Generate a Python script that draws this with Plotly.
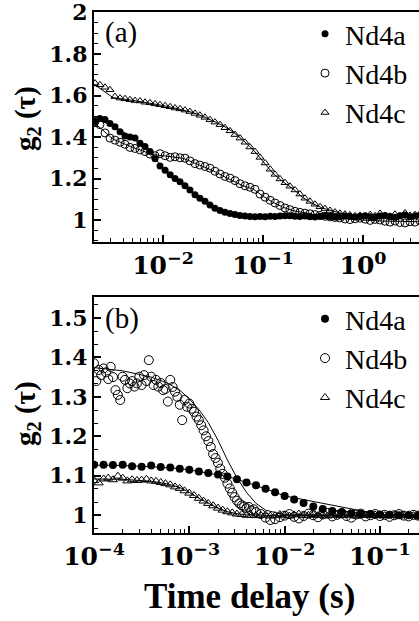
import plotly.graph_objects as go

# ---- panel (a): correlator lag times (s) and g2 values ----
delay_a = [0.00209, 0.00234, 0.00263, 0.00295, 0.00331, 0.00372, 0.00417, 0.00468, 0.00525, 0.00589,
           0.00661, 0.00741, 0.00832, 0.00933, 0.0105, 0.0118, 0.0132, 0.0148, 0.0166, 0.0186,
           0.0209, 0.0234, 0.0263, 0.0295, 0.0331, 0.0372, 0.0417, 0.0468, 0.0525, 0.0589,
           0.0661, 0.0741, 0.0832, 0.0933, 0.105, 0.118, 0.132, 0.148, 0.166, 0.186,
           0.209, 0.234, 0.263, 0.295, 0.331, 0.372, 0.417, 0.468, 0.525, 0.589,
           0.661, 0.741, 0.832, 0.933, 1.05, 1.18, 1.32, 1.48, 1.66, 1.86,
           2.09, 2.34, 2.63, 2.95, 3.31, 3.72]

nd4a_a = [1.475, 1.49, 1.485, 1.465, 1.45, 1.425, 1.405, 1.40, 1.395, 1.37,
          1.355, 1.33, 1.295, 1.26, 1.24, 1.218, 1.20, 1.185, 1.165, 1.145,
          1.122, 1.105, 1.09, 1.072, 1.057, 1.046, 1.038, 1.032, 1.027, 1.022,
          1.019, 1.017, 1.016, 1.017, 1.016, 1.018, 1.017, 1.019, 1.021, 1.02,
          1.018, 1.017, 1.019, 1.016, 1.015, 1.018, 1.02, 1.017, 1.014, 1.016,
          1.019, 1.017, 1.015, 1.018, 1.021, 1.016, 1.014, 1.019, 1.022, 1.017,
          1.013, 1.02, 1.024, 1.016, 1.019, 1.023]

nd4b_a = [1.475, 1.46, 1.42, 1.395, 1.385, 1.375, 1.365, 1.35, 1.345, 1.338,
          1.33, 1.318, 1.31, 1.32, 1.31, 1.302, 1.305, 1.30, 1.298, 1.285,
          1.272, 1.265, 1.258, 1.25, 1.235, 1.222, 1.21, 1.202, 1.19, 1.175,
          1.165, 1.158, 1.148, 1.125, 1.11, 1.095, 1.082, 1.07, 1.058, 1.05,
          1.042, 1.037, 1.033, 1.03, 1.026, 1.022, 1.018, 1.015, 1.012, 1.01,
          1.005, 1.002, 1.006, 1.009, 1.004, 0.998, 1.003, 1.0, 0.994, 0.99,
          0.995, 0.988, 0.986, 0.992, 0.99, 0.996]

nd4c_a = [1.66, 1.652, 1.64, 1.628, 1.595, 1.588, 1.585, 1.58, 1.576, 1.574,
          1.568, 1.565, 1.56, 1.556, 1.551, 1.546, 1.54, 1.536, 1.53, 1.523,
          1.514, 1.505, 1.495, 1.484, 1.472, 1.46, 1.445, 1.43, 1.412, 1.395,
          1.375, 1.352, 1.33, 1.302, 1.275, 1.245, 1.22, 1.198, 1.18, 1.163,
          1.145, 1.125, 1.105, 1.09, 1.076, 1.064, 1.055, 1.046, 1.038, 1.032,
          1.028, 1.024, 1.02, 1.022, 1.018, 1.026, 1.02, 1.032, 1.022, 1.018,
          1.028, 1.02, 1.034, 1.022, 1.026, 1.03]

fit_delay_a = [0.00204, 0.00316, 0.00501, 0.00794, 0.01, 0.0126, 0.0158, 0.02, 0.0251, 0.0316,
               0.0398, 0.0501, 0.0631, 0.0794, 0.1, 0.126, 0.158, 0.2, 0.251, 0.316,
               0.398, 0.501, 0.631, 0.794, 1.0, 1.58, 3.63]
fit_nd4a_a = [1.49, 1.455, 1.395, 1.31, 1.25, 1.21, 1.175, 1.135, 1.098, 1.065,
              1.042, 1.03, 1.021, 1.018, 1.017, 1.017, 1.018, 1.018, 1.018, 1.018,
              1.018, 1.018, 1.018, 1.018, 1.018, 1.018, 1.018]
fit_nd4b_a = [1.47, 1.39, 1.35, 1.315, 1.31, 1.303, 1.298, 1.278, 1.257, 1.238,
              1.212, 1.19, 1.165, 1.15, 1.115, 1.085, 1.062, 1.045, 1.035, 1.026,
              1.018, 1.012, 1.006, 1.003, 1.0, 0.995, 0.992]
fit_nd4c_a = [1.655, 1.59, 1.577, 1.562, 1.552, 1.542, 1.532, 1.518, 1.5, 1.478,
              1.455, 1.425, 1.385, 1.34, 1.285, 1.225, 1.185, 1.15, 1.108, 1.078,
              1.057, 1.042, 1.03, 1.022, 1.02, 1.022, 1.024]

# ---- panel (b) ----
delay_b_fine = [1.000e-4, 1.059e-4, 1.122e-4, 1.189e-4, 1.259e-4, 1.334e-4, 1.413e-4, 1.496e-4, 1.585e-4, 1.679e-4,
                1.778e-4, 1.884e-4, 1.995e-4, 2.113e-4, 2.239e-4, 2.371e-4, 2.512e-4, 2.661e-4, 2.818e-4, 2.985e-4,
                3.162e-4, 3.350e-4, 3.548e-4, 3.758e-4, 3.981e-4, 4.217e-4, 4.467e-4, 4.732e-4, 5.012e-4, 5.309e-4,
                5.623e-4, 5.957e-4, 6.310e-4, 6.683e-4, 7.079e-4, 7.499e-4, 7.943e-4, 8.414e-4, 8.913e-4, 9.441e-4,
                1.000e-3, 1.059e-3, 1.122e-3, 1.189e-3, 1.259e-3, 1.334e-3, 1.413e-3, 1.496e-3, 1.585e-3, 1.679e-3,
                1.778e-3, 1.884e-3, 1.995e-3, 2.113e-3, 2.239e-3, 2.371e-3, 2.512e-3, 2.661e-3, 2.818e-3, 2.985e-3,
                3.162e-3, 3.350e-3, 3.548e-3, 3.758e-3, 3.981e-3, 4.217e-3, 4.467e-3, 4.732e-3, 5.012e-3,
                5.623e-3, 6.310e-3, 7.079e-3, 7.943e-3, 8.913e-3, 1.000e-2, 1.122e-2, 1.259e-2, 1.413e-2, 1.585e-2,
                1.778e-2, 1.995e-2, 2.239e-2, 2.512e-2, 2.818e-2, 3.162e-2, 3.548e-2, 3.981e-2, 4.467e-2, 5.012e-2,
                5.623e-2, 6.310e-2, 7.079e-2, 7.943e-2, 8.913e-2, 0.1000, 0.1122, 0.1259, 0.1413, 0.1585,
                0.1778, 0.1995, 0.2239, 0.2512]
nd4b_b = [1.385, 1.340, 1.368, 1.355, 1.372, 1.362, 1.345, 1.376, 1.350, 1.317,
          1.305, 1.292, 1.351, 1.343, 1.322, 1.334, 1.340, 1.326, 1.334, 1.351,
          1.330, 1.355, 1.340, 1.393, 1.351, 1.330, 1.343, 1.326, 1.335, 1.317,
          1.320, 1.288, 1.343, 1.325, 1.313, 1.300, 1.280, 1.241, 1.292, 1.275,
          1.283, 1.270, 1.262, 1.250, 1.241, 1.228, 1.215, 1.200, 1.188, 1.173,
          1.155, 1.145, 1.133, 1.118, 1.105, 1.095, 1.080, 1.068, 1.057, 1.046,
          1.037, 1.030, 1.025, 1.022, 1.018, 1.021, 1.012, 1.015, 1.008,
          1.003, 0.994, 0.988, 0.990, 0.995, 0.999, 1.003, 0.996, 0.992, 0.998,
          1.004, 1.000, 0.995, 1.002, 1.006, 0.997, 1.001, 1.005, 0.998, 0.994,
          1.002, 1.004, 0.997, 1.000, 1.003, 0.998, 1.001, 0.996, 1.000, 1.003,
          0.999, 0.997, 1.001, 0.999]

delay_b = [1.00e-4, 1.12e-4, 1.26e-4, 1.41e-4, 1.58e-4, 1.78e-4, 2.00e-4, 2.24e-4, 2.51e-4, 2.82e-4,
           3.16e-4, 3.55e-4, 3.98e-4, 4.47e-4, 5.01e-4, 5.62e-4, 6.31e-4, 7.08e-4, 7.94e-4, 8.91e-4,
           1.00e-3, 1.12e-3, 1.26e-3, 1.41e-3, 1.58e-3, 1.78e-3, 2.00e-3, 2.24e-3, 2.51e-3, 2.82e-3,
           3.16e-3, 3.55e-3, 3.98e-3, 4.47e-3, 5.01e-3, 5.62e-3, 6.31e-3, 7.08e-3, 7.94e-3, 8.91e-3,
           1.00e-2, 1.12e-2, 1.26e-2, 1.41e-2, 1.58e-2, 1.78e-2, 2.00e-2, 2.24e-2, 2.51e-2, 2.82e-2,
           3.16e-2, 3.55e-2, 3.98e-2, 4.47e-2, 5.01e-2, 5.62e-2, 6.31e-2, 7.08e-2, 7.94e-2, 8.91e-2,
           0.100, 0.112, 0.126, 0.141, 0.158, 0.178, 0.200, 0.224, 0.251]
nd4c_b = [1.088, 1.082, 1.092, 1.094, 1.090, 1.099, 1.094, 1.087, 1.090, 1.088,
          1.089, 1.091, 1.087, 1.086, 1.083, 1.080, 1.077, 1.072, 1.068, 1.062,
          1.056, 1.050, 1.043, 1.036, 1.030, 1.024, 1.018, 1.013, 1.009, 1.006,
          1.003, 1.002, 1.000, 1.000, 0.999, 1.000, 1.001, 0.998, 0.999, 1.002,
          1.000, 0.998, 1.001, 1.003, 0.999, 1.000, 1.002, 0.999, 1.001, 0.998,
          1.000, 1.002, 0.999, 1.001, 1.000, 0.998, 1.001, 1.000, 0.999, 1.001,
          1.000, 0.999, 1.001, 1.000, 0.998, 1.000, 1.001, 0.999, 1.000]

delay_b_coarse = [1.00e-4, 1.26e-4, 1.58e-4, 2.00e-4, 2.51e-4, 3.16e-4, 3.98e-4, 5.01e-4, 6.31e-4, 7.94e-4,
                  1.00e-3, 1.26e-3, 1.58e-3, 2.00e-3, 2.51e-3, 3.16e-3, 3.98e-3, 5.01e-3, 6.31e-3, 7.94e-3,
                  1.00e-2, 1.26e-2, 1.58e-2, 2.00e-2, 2.51e-2, 3.16e-2, 3.98e-2, 5.01e-2, 6.31e-2, 7.94e-2,
                  0.100, 0.126, 0.158, 0.200, 0.251]
nd4a_b = [1.128, 1.128, 1.127, 1.128, 1.124, 1.123, 1.126, 1.122, 1.121, 1.118,
          1.115, 1.111, 1.107, 1.103, 1.098, 1.091, 1.083, 1.076, 1.067, 1.058,
          1.049, 1.040, 1.031, 1.022, 1.016, 1.011, 1.008, 1.005, 1.004, 1.003,
          1.002, 1.001, 1.000, 1.000, 0.999]

fit_delay_b = [1e-4, 2e-4, 4e-4, 6e-4, 8e-4, 1e-3, 1.26e-3, 1.58e-3, 2e-3, 2.51e-3,
               3.16e-3, 3.98e-3, 5.01e-3, 6.31e-3, 1e-2, 1e-1, 0.257]
fit_nd4a_b = [1.127, 1.126, 1.123, 1.121, 1.118, 1.115, 1.111, 1.107, 1.103, 1.098,
              1.091, 1.083, 1.076, 1.067, 1.049, 1.002, 1.0]
fit_nd4b_b = [1.374, 1.366, 1.35, 1.334, 1.316, 1.295, 1.268, 1.235, 1.19, 1.14,
              1.095, 1.058, 1.03, 1.013, 1.001, 1.0, 1.0]
fit_nd4c_b = [1.092, 1.091, 1.086, 1.079, 1.07, 1.058, 1.043, 1.03, 1.018, 1.009,
              1.004, 1.001, 1.0, 1.0, 1.0, 1.0, 1.0]

# tick labels
yticks_a = [1, 1.2, 1.4, 1.6, 1.8, 2]
yticks_b = [1, 1.1, 1.2, 1.3, 1.4, 1.5]
xticks_a = [0.01, 0.1, 1]
xticks_b = [1e-4, 1e-3, 1e-2, 1e-1]
xlabels_a = ["10<sup>−2</sup>", "10<sup>−1</sup>", "10<sup>0</sup>"]
xlabels_b = ["10<sup>−4</sup>", "10<sup>−3</sup>", "10<sup>−2</sup>", "10<sup>−1</sup>"]

W, H = 419, 621
SERIF = "Liberation Serif"
TICKFONT = dict(family="DejaVu Serif", size=22, color="black", weight="bold")

def markers(name, scale):
    style = {
        "Nd4a": dict(symbol="circle", size=7, color="black"),
        "Nd4b": dict(symbol="circle-open", size=8, color="black", line=dict(width=1)),
        "Nd4c": dict(symbol="triangle-up-open", size=7, color="black", line=dict(width=1)),
    }[name]
    style["size"] += scale
    return style

fig = go.Figure()

panels = [
    ("x", "y", "legend", 0, [(fit_delay_a, fit_nd4a_a), (fit_delay_a, fit_nd4b_a), (fit_delay_a, fit_nd4c_a)],
     [("Nd4a", delay_a, nd4a_a), ("Nd4b", delay_a, nd4b_a), ("Nd4c", delay_a, nd4c_a)]),
    ("x2", "y2", "legend2", 1, [(fit_delay_b, fit_nd4a_b), (fit_delay_b, fit_nd4b_b), (fit_delay_b, fit_nd4c_b)],
     [("Nd4a", delay_b_coarse, nd4a_b), ("Nd4b", delay_b_fine, nd4b_b), ("Nd4c", delay_b, nd4c_b)]),
]

for xa, ya, leg, grow, fits, series in panels:
    for name, t, g in series:
        fig.add_trace(go.Scatter(x=t, y=g, mode="markers", name=name, marker=markers(name, grow),
                                 xaxis=xa, yaxis=ya, legend=leg))
    for t, g in fits:
        fig.add_trace(go.Scatter(x=t, y=g, mode="lines", line=dict(color="black", width=1),
                                 xaxis=xa, yaxis=ya, showlegend=False))

def xaxis(rng, vals, texts, anchor):
    return dict(type="log", range=rng, domain=[94 / W, 1], anchor=anchor, automargin=False,
                tickmode="array", tickvals=vals, ticktext=texts,
                ticks="inside", ticklen=7, tickwidth=1.5, tickcolor="black",
                minor=dict(ticks="inside", ticklen=4, tickwidth=1, tickcolor="black", dtick="D1"),
                showline=True, linecolor="black", linewidth=2, mirror=True,
                showgrid=False, zeroline=False, tickfont=dict(TICKFONT, size=25),
                ticklabeloverflow="allow")

def yaxis(rng, vals, minor_dtick, dom, anchor):
    return dict(range=rng, domain=dom, anchor=anchor, automargin=False,
                tickmode="array", tickvals=vals, ticktext=[f"{v:g}" for v in vals],
                ticks="inside", ticklen=7, tickwidth=1.5, tickcolor="black",
                minor=dict(ticks="inside", ticklen=4, tickwidth=1, tickcolor="black", dtick=minor_dtick, tick0=1),
                showline=True, linecolor="black", linewidth=2, mirror=False,
                showgrid=False, zeroline=False, tickfont=TICKFONT, ticklabeloverflow="allow")

legend_font = dict(family=SERIF, size=28, color="black")

def note(text, x, y, size, bold=False, angle=0):
    return dict(text=f"<b>{text}</b>" if bold else text, x=x / W, y=1 - y / H,
                xref="paper", yref="paper", xanchor="center", yanchor="middle",
                showarrow=False, textangle=angle, font=dict(family=SERIF, size=size, color="black"))

fig.update_layout(
    width=W, height=H,
    margin=dict(l=0, r=0, t=0, b=0),
    plot_bgcolor="white", paper_bgcolor="white",
    xaxis=xaxis([-2.69, 0.56], xticks_a, xlabels_a, "y"),
    yaxis=yaxis([0.894, 2.003], yticks_a, 0.05, [1 - 242 / H, 1 - 12 / H], "x"),
    xaxis2=xaxis([-4.0, -0.59], xticks_b, xlabels_b, "y2"),
    yaxis2=yaxis([0.955, 1.553], yticks_b, 0.1 / 3, [1 - 533 / H, 1 - 297 / H], "x2"),
    legend=dict(x=305 / W, y=1 - 9 / H, xanchor="left", yanchor="top", font=legend_font,
                bgcolor="rgba(0,0,0,0)", itemwidth=30, tracegroupgap=0),
    legend2=dict(x=305 / W, y=1 - 294 / H, xanchor="left", yanchor="top", font=legend_font,
                 bgcolor="rgba(0,0,0,0)", itemwidth=30, tracegroupgap=0),
    annotations=[
        note("(a)", 121, 32, 29),
        note("(b)", 122, 318, 29),
        note("g<sub>2</sub> (τ)", 27, 119, 29, bold=True, angle=-90),
        note("g<sub>2</sub> (τ)", 27, 414, 29, bold=True, angle=-90),
        note("Time delay (s)", 249, 596, 35, bold=True),
    ],
)

# drop the default 8px page margin so the figure sits at the window origin
fig.write_html("out.html", config={"displayModeBar": False},
               post_script="document.body.style.margin='0';")
